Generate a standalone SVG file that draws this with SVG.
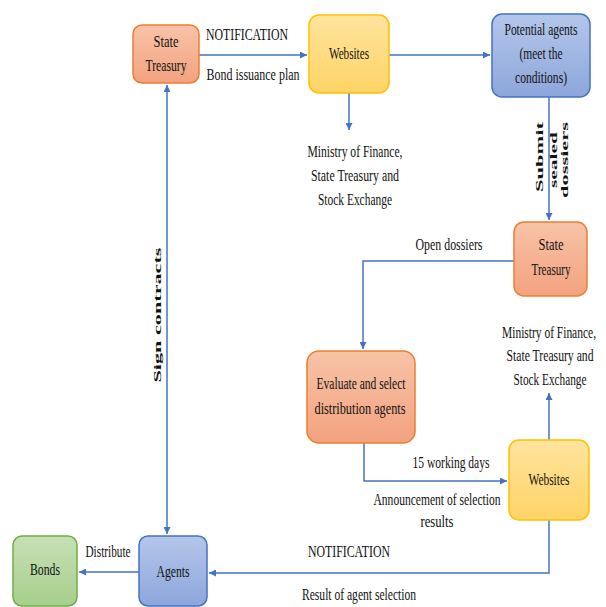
<svg xmlns="http://www.w3.org/2000/svg" width="606" height="607" viewBox="0 0 606 607">
<defs>
<linearGradient id="gOr" x1="0" y1="0" x2="0" y2="1"><stop offset="0" stop-color="#F8C3A8"/><stop offset="1" stop-color="#F3A27F"/></linearGradient>
<linearGradient id="gYe" x1="0" y1="0" x2="0" y2="1"><stop offset="0" stop-color="#FFE49E"/><stop offset="1" stop-color="#FFD466"/></linearGradient>
<linearGradient id="gBl" x1="0" y1="0" x2="0" y2="1"><stop offset="0" stop-color="#B4C6EA"/><stop offset="1" stop-color="#8DA6DB"/></linearGradient>
<linearGradient id="gGr" x1="0" y1="0" x2="0" y2="1"><stop offset="0" stop-color="#C7E0B6"/><stop offset="1" stop-color="#A6CF8B"/></linearGradient>
<marker id="ah" viewBox="0 0 8 8" refX="8" refY="4" markerWidth="7" markerHeight="7" markerUnits="userSpaceOnUse" orient="auto-start-reverse"><path d="M0,0 L8,4 L0,8 z" fill="#4472C4"/></marker>
</defs>
<style>
.or{fill:url(#gOr);stroke:#ED7D31;stroke-width:1.5}
.ye{fill:url(#gYe);stroke:#FFC000;stroke-width:1.5}
.bl{fill:url(#gBl);stroke:#4472C4;stroke-width:1.5}
.gr{fill:url(#gGr);stroke:#70AD47;stroke-width:1.5}
text{font-family:"Liberation Serif","DejaVu Serif",serif;font-size:16px;fill:#111;text-anchor:middle}
.sm{font-size:12px}
.c{fill:none;stroke:#4472C4;stroke-width:1.5}
.rt{font-weight:bold;font-size:11px;dominant-baseline:central}
</style>
<rect width="606" height="607" fill="#fff"/>
<g id="connectors">
<path class="c" d="M199,55 H307" marker-end="url(#ah)"/>
<path class="c" d="M389,55 H490" marker-end="url(#ah)"/>
<path class="c" d="M349,93 V130" marker-end="url(#ah)"/>
<path class="c" d="M549,97 V220" marker-end="url(#ah)"/>
<path class="c" d="M514,261 H363 V349" marker-end="url(#ah)"/>
<path class="c" d="M364,443 V481 H507" marker-end="url(#ah)"/>
<path class="c" d="M549,440 V393" marker-end="url(#ah)"/>
<path class="c" d="M549,520 V573 H209" marker-end="url(#ah)"/>
<path class="c" d="M139,572 H79" marker-end="url(#ah)"/>
<path class="c" d="M167,85 V534" marker-start="url(#ah)" marker-end="url(#ah)"/>
<text x="247" y="40" textLength="82" lengthAdjust="spacingAndGlyphs">NOTIFICATION</text>
<text x="253" y="80" textLength="93" lengthAdjust="spacingAndGlyphs">Bond issuance plan</text>
<text x="355" y="157" textLength="95" lengthAdjust="spacingAndGlyphs">Ministry of Finance,</text>
<text x="355" y="181" textLength="88" lengthAdjust="spacingAndGlyphs">State Treasury and</text>
<text x="355" y="205" textLength="74" lengthAdjust="spacingAndGlyphs">Stock Exchange</text>
<text class="rt" transform="translate(539,157) rotate(-90)" textLength="70" lengthAdjust="spacingAndGlyphs">Submit</text>
<text class="rt" transform="translate(553,160) rotate(-90)" textLength="56" lengthAdjust="spacingAndGlyphs">sealed</text>
<text class="rt" transform="translate(564,160) rotate(-90)" textLength="76" lengthAdjust="spacingAndGlyphs">dossiers</text>
<text class="rt" transform="translate(157,315) rotate(-90)" textLength="135" lengthAdjust="spacingAndGlyphs">Sign contracts</text>
<text x="449" y="250" textLength="67" lengthAdjust="spacingAndGlyphs">Open dossiers</text>
<text x="451" y="468" textLength="77" lengthAdjust="spacingAndGlyphs">15 working days</text>
<text x="437" y="505" textLength="127" lengthAdjust="spacingAndGlyphs">Announcement of selection</text>
<text x="437" y="527" textLength="33" lengthAdjust="spacingAndGlyphs">results</text>
<text class="sm" transform="translate(549,338) scale(1,1.33)" textLength="94" lengthAdjust="spacingAndGlyphs">Ministry of Finance,</text>
<text class="sm" transform="translate(550,361) scale(1,1.33)" textLength="87" lengthAdjust="spacingAndGlyphs">State Treasury and</text>
<text class="sm" transform="translate(550,385) scale(1,1.33)" textLength="73" lengthAdjust="spacingAndGlyphs">Stock Exchange</text>
<text x="349" y="557" textLength="82" lengthAdjust="spacingAndGlyphs">NOTIFICATION</text>
<text x="359" y="600" textLength="114" lengthAdjust="spacingAndGlyphs">Result of agent selection</text>
<text x="108" y="557" textLength="45" lengthAdjust="spacingAndGlyphs">Distribute</text>
</g>
<g id="st1"><rect class="or" x="133" y="25" width="66" height="58" rx="9"/><text x="166" y="47" textLength="25" lengthAdjust="spacingAndGlyphs">State</text><text x="166" y="71" textLength="41" lengthAdjust="spacingAndGlyphs">Treasury</text></g>
<g id="web1"><rect class="ye" x="309" y="15" width="80" height="78" rx="10"/><text x="349" y="59" textLength="40" lengthAdjust="spacingAndGlyphs">Websites</text></g>
<g id="pot"><rect class="bl" x="492" y="14" width="98" height="83" rx="10"/><text x="541" y="35" textLength="73" lengthAdjust="spacingAndGlyphs">Potential agents</text><text x="541" y="59" textLength="43" lengthAdjust="spacingAndGlyphs">(meet the</text><text x="541" y="83" textLength="52" lengthAdjust="spacingAndGlyphs">conditions)</text></g>
<g id="st2"><rect class="or" x="514" y="222" width="73" height="74" rx="10"/><text x="551" y="250" textLength="25" lengthAdjust="spacingAndGlyphs">State</text><text x="551" y="275" textLength="39" lengthAdjust="spacingAndGlyphs">Treasury</text></g>
<g id="eval"><rect class="or" x="307" y="351" width="108" height="92" rx="12"/><text x="361" y="389" textLength="89" lengthAdjust="spacingAndGlyphs">Evaluate and select</text><text x="360" y="414" textLength="91" lengthAdjust="spacingAndGlyphs">distribution  agents</text></g>
<g id="web2"><rect class="ye" x="509" y="440" width="80" height="80" rx="10"/><text x="549" y="485" textLength="41" lengthAdjust="spacingAndGlyphs">Websites</text></g>
<g id="agents"><rect class="bl" x="139" y="536" width="68" height="70" rx="9"/><text x="173" y="577" textLength="33" lengthAdjust="spacingAndGlyphs">Agents</text></g>
<g id="bonds"><rect class="gr" x="13" y="536" width="64" height="70" rx="9"/><text x="45" y="575" textLength="30" lengthAdjust="spacingAndGlyphs">Bonds</text></g>
</svg>
